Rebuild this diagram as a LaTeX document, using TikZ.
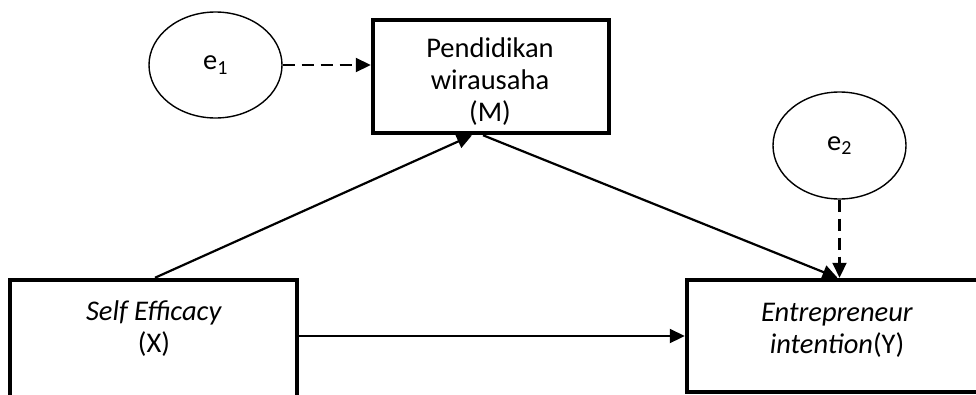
\documentclass[tikz,border=0pt]{standalone}
\usepackage{fontspec}
\setmainfont{Carlito}
\usetikzlibrary{arrows.meta,shapes.geometric}
\begin{document}
\begin{tikzpicture}[x=1pt,y=-1pt,
  box/.style={draw, line width=4.5pt, inner sep=0pt},
  errnode/.style={draw, ellipse, line width=1.4pt, inner sep=0pt},
  txt/.style={font=\fontsize{28.5}{32}\selectfont},
  lbl/.style={txt, align=center, inner sep=0pt},
  tip/.style={-{Triangle[length=15pt,width=14pt]}},
  path/.style={tip, line width=2.2pt},
  errpath/.style={tip, line width=2.2pt, dash pattern=on 12pt off 7pt}]
  \useasboundingbox (0,0) rectangle (976,394);
  \clip (0,0) rectangle (976,394);

  % boxes
  \node[box, minimum width=236pt, minimum height=113pt] (m) at (491,76.5) {};
  \node[box, minimum width=287pt, minimum height=130pt] (x) at (153.5,345) {};
  \node[box, minimum width=301pt, minimum height=112pt] (y) at (837.5,336) {};

  % box labels
  \node[lbl] (mt) at (490,81.5) {Pendidikan\\wirausaha\\(M)};
  \node[lbl] (xt) at (154,328.5) {\textit{Self Efficacy}\\(X)};
  \node[lbl] (yt) at (837,330) {\textit{Entrepreneur}\\\textit{intention}(Y)};

  % error terms
  \node[errnode, txt, minimum width=133pt, minimum height=106pt] (e1) at (215.5,65) {e\textsubscript{1}};
  \node[errnode, txt, minimum width=133pt, minimum height=107pt] (e2) at (839.5,145.5) {e\textsubscript{2}};

  % paths
  \draw[errpath] (e1.east) -- (e1.east -| m.west);
  \draw[errpath] (e2.south) -- (e2.south |- y.north);
  \draw[path] ([xshift=1.5pt]x.north) -- ([xshift=-19pt]m.south);
  \draw[path] ([xshift=-8pt]m.south) -- (y.north);
  \draw[path] (y.west -| x.east) -- (y.west);
\end{tikzpicture}
\end{document}
